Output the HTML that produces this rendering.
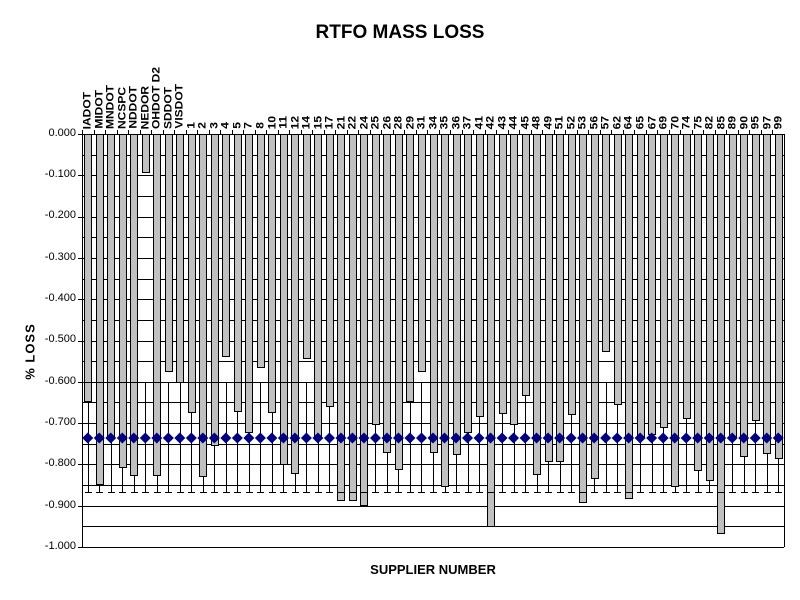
<!DOCTYPE html>
<html><head><meta charset="utf-8"><style>
body{margin:0;width:800px;height:600px;background:#fff;position:relative;overflow:hidden;font-family:"Liberation Sans",Arial,sans-serif}
.t{position:absolute;left:0;width:800px;top:22px;text-align:center;font-weight:bold;font-size:19px}
.cats{position:absolute;left:82px;width:702px;top:50px;height:79px;display:flex}
.cats div{flex:1;display:flex;justify-content:center;align-items:flex-end}
.cats span{writing-mode:vertical-rl;transform:rotate(180deg) scaleX(0.9);font-weight:bold;font-size:12px;line-height:11px;white-space:nowrap}
.yl{position:absolute;font-size:11px;right:724px;text-align:right}
.xt{position:absolute;left:0;width:866px;text-align:center;top:562px;font-weight:bold;font-size:13px}
.yt{position:absolute;left:-20px;top:344px;font-weight:bold;font-size:13px;letter-spacing:1px;transform:rotate(-90deg);transform-origin:center;width:100px;text-align:center;white-space:nowrap}
svg{position:absolute;left:0;top:0}
</style></head><body>
<div class="t">RTFO MASS LOSS</div>
<div class="cats">
<div><span>IADOT</span></div><div><span>MIDOT</span></div><div><span>MNDOT</span></div><div><span>NCSPC</span></div><div><span>NDDOT</span></div><div><span>NEDOR</span></div><div><span>OHDOT D2</span></div><div><span>SDDOT</span></div><div><span>VISDOT</span></div>
<div><span>1</span></div><div><span>2</span></div><div><span>3</span></div><div><span>4</span></div><div><span>5</span></div><div><span>7</span></div><div><span>8</span></div><div><span>10</span></div><div><span>11</span></div><div><span>12</span></div><div><span>14</span></div><div><span>15</span></div><div><span>17</span></div><div><span>21</span></div><div><span>22</span></div><div><span>24</span></div><div><span>25</span></div><div><span>26</span></div><div><span>28</span></div><div><span>29</span></div><div><span>31</span></div><div><span>34</span></div><div><span>35</span></div><div><span>36</span></div><div><span>37</span></div><div><span>41</span></div><div><span>42</span></div><div><span>43</span></div><div><span>44</span></div><div><span>45</span></div><div><span>48</span></div><div><span>49</span></div><div><span>51</span></div><div><span>52</span></div><div><span>53</span></div><div><span>56</span></div><div><span>57</span></div><div><span>62</span></div><div><span>64</span></div><div><span>65</span></div><div><span>67</span></div><div><span>69</span></div><div><span>70</span></div><div><span>74</span></div><div><span>75</span></div><div><span>82</span></div><div><span>85</span></div><div><span>89</span></div><div><span>90</span></div><div><span>95</span></div><div><span>97</span></div><div><span>99</span></div>
</div>
<div class="yl" style="top:127px">0.000</div>
<div class="yl" style="top:168px">-0.100</div>
<div class="yl" style="top:209px">-0.200</div>
<div class="yl" style="top:251px">-0.300</div>
<div class="yl" style="top:292px">-0.400</div>
<div class="yl" style="top:333px">-0.500</div>
<div class="yl" style="top:375px">-0.600</div>
<div class="yl" style="top:416px">-0.700</div>
<div class="yl" style="top:457px">-0.800</div>
<div class="yl" style="top:499px">-0.900</div>
<div class="yl" style="top:540px">-1.000</div>
<div class="yt">% LOSS</div>
<div class="xt">SUPPLIER NUMBER</div>
<svg id="s" width="800" height="600"></svg>
<script>
var b=[401,484,436,467,475,172,475,371,382,412,476,445,356,411,432,367,412,464,473,358,437,406,500,500,505,424,452,469,401,371,452,486,454,432,416,526,413,424,395,474,461,461,414,502,478,351,404,498,437,434,427,486,418,470,480,533,436,456,420,453,458];
var L=82,R=784,T=134,B=547,n=61,w=(R-L)/n,h='';
function y(v){return T+(B-T)*v;}
for(var k=1;k<=20;k++){var yy=Math.round(y(k/20))+.5;h+='<line x1="'+L+'" x2="'+R+'" y1="'+yy+'" y2="'+yy+'" stroke="#000"/>';}
var e1=382,e2=492;
for(var i=0;i<n;i++){var c=L+w*(i+.5),x=Math.round(c-3.5)+.5,cx=Math.round(c)+.5;
h+='<line x1="'+cx+'" x2="'+cx+'" y1="'+e1+'" y2="'+e2+'" stroke="#000"/>';
h+='<rect x="'+x+'" y="'+(T+.5)+'" width="7" height="'+(b[i]-T)+'" fill="#c0c0c0" stroke="#000"/>';
if(b[i]>e1)h+='<line x1="'+x+'" x2="'+(x+7)+'" y1="'+(e1+.5)+'" y2="'+(e1+.5)+'" stroke="#000"/>';
if(b[i]>e2)h+='<line x1="'+x+'" x2="'+(x+7)+'" y1="'+(e2+.5)+'" y2="'+(e2+.5)+'" stroke="#000"/>';
h+='<line x1="'+(cx-3.5)+'" x2="'+(cx+3.5)+'" y1="'+(e1+.5)+'" y2="'+(e1+.5)+'" stroke="#000"/>';
h+='<line x1="'+(cx-3.5)+'" x2="'+(cx+3.5)+'" y1="'+(e2+.5)+'" y2="'+(e2+.5)+'" stroke="#000"/>';
var tx=Math.round(L+w*i)+.5;h+='<line x1="'+tx+'" x2="'+tx+'" y1="'+(T-4)+'" y2="'+T+'" stroke="#000"/>';}
for(var i=0;i<n;i++){var c=L+w*(i+.5),d=438;
h+='<polygon points="'+(c-5.5)+','+d+' '+c+','+(d-5.5)+' '+(c+5.5)+','+d+' '+c+','+(d+5.5)+'" fill="#000080"/>';}
h+='<line x1="'+(L+.5)+'" x2="'+(L+.5)+'" y1="'+T+'" y2="'+B+'" stroke="#000"/>';
h+='<line x1="'+(R+.5)+'" x2="'+(R+.5)+'" y1="'+T+'" y2="'+B+'" stroke="#000"/>';
h+='<line x1="'+L+'" x2="'+R+'" y1="'+(T+.5)+'" y2="'+(T+.5)+'" stroke="#000"/>';
for(var k=0;k<=10;k++){var yy=Math.round(y(k/10))+.5;h+='<line x1="'+(L-4)+'" x2="'+L+'" y1="'+yy+'" y2="'+yy+'" stroke="#000"/>';}
document.getElementById('s').innerHTML=h;
</script>
</body></html>
